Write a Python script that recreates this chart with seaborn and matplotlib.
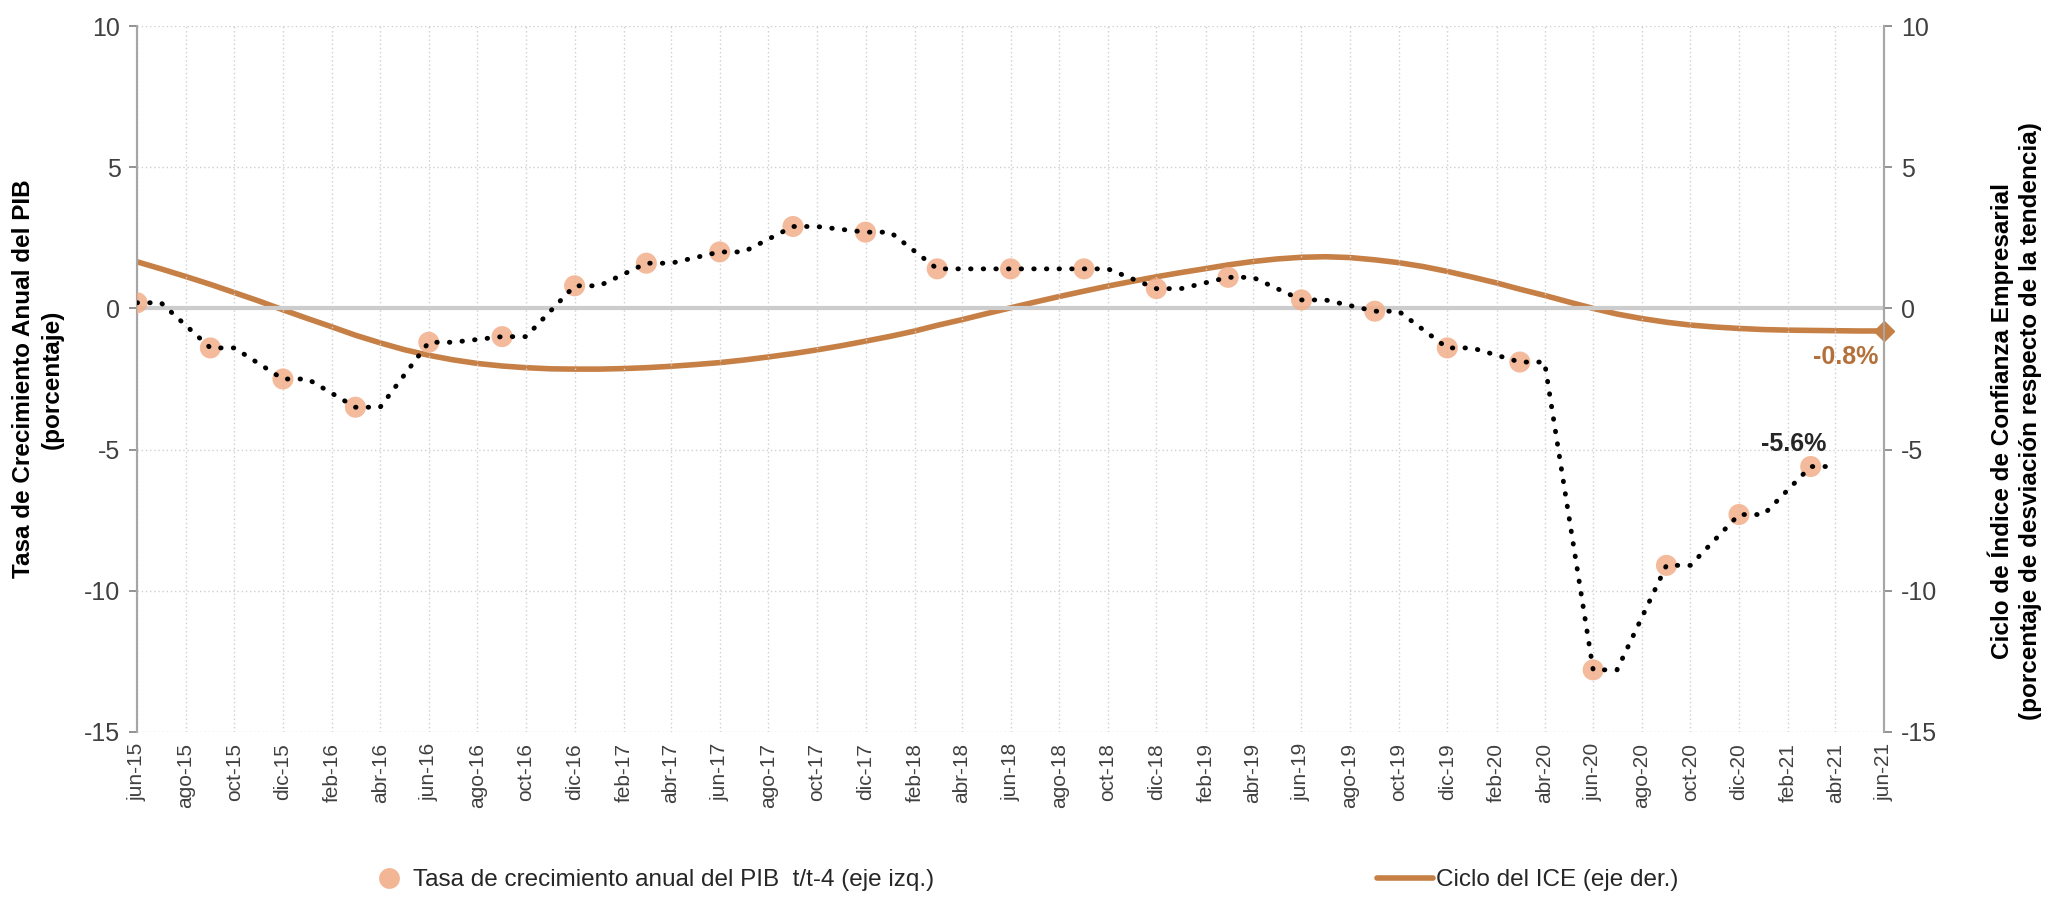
import pandas as pd
import numpy as np
import matplotlib
matplotlib.use("Agg")
import matplotlib.pyplot as plt
import seaborn as sns
from matplotlib.lines import Line2D

# PIB: tasa de crecimiento anual t/t-4 (trimestral, eje izq.)
pib_months = ["2015-06", "2015-09", "2015-12", "2016-03", "2016-06", "2016-09",
              "2016-12", "2017-03", "2017-06", "2017-09", "2017-12", "2018-03",
              "2018-06", "2018-09", "2018-12", "2019-03", "2019-06", "2019-09",
              "2019-12", "2020-03", "2020-06", "2020-09", "2020-12", "2021-03"]
pib_values = [0.2, -1.4, -2.5, -3.5, -1.2, -1.0,
              0.8, 1.6, 2.0, 2.9, 2.7, 1.4,
              1.4, 1.4, 0.7, 1.1, 0.3, -0.1,
              -1.4, -1.9, -12.8, -9.1, -7.3, -5.6]

# Ciclo del ICE (mensual, eje der.), jun-15 .. jun-21
ice_start = "2015-06"
ice_values = [1.65, 1.40, 1.13, 0.85, 0.56, 0.26, -0.05, -0.36, -0.66, -0.95,
              -1.22, -1.46, -1.66, -1.82, -1.95, -2.04, -2.10, -2.14, -2.15, -2.15,
              -2.13, -2.10, -2.05, -1.99, -1.92, -1.83, -1.72, -1.60, -1.47, -1.32,
              -1.16, -0.99, -0.80, -0.60, -0.40, -0.19, 0.02, 0.22, 0.42, 0.61,
              0.79, 0.96, 1.12, 1.27, 1.41, 1.54, 1.66, 1.75, 1.81, 1.83,
              1.80, 1.72, 1.62, 1.48, 1.31, 1.11, 0.90, 0.68, 0.46, 0.23,
              0.00, -0.20, -0.36, -0.49, -0.59, -0.66, -0.71, -0.75, -0.77, -0.78,
              -0.79, -0.80, -0.80]

meses = {1: "ene", 2: "feb", 3: "mar", 4: "abr", 5: "may", 6: "jun",
         7: "jul", 8: "ago", 9: "sep", 10: "oct", 11: "nov", 12: "dic"}

ORANGE = "#C67F45"
SALMON = "#F2AE8A"
GREY_TXT = "#404040"

pib = pd.DataFrame({"fecha": pd.to_datetime(pib_months), "valor": pib_values})
ice = pd.DataFrame({
    "fecha": pd.date_range(ice_start, periods=len(ice_values), freq="MS"),
    "valor": ice_values,
})

# linea punteada: el valor trimestral se mantiene un mes y luego enlaza con el siguiente
pib_line = pd.concat([pib, pib.assign(fecha=pib["fecha"] + pd.DateOffset(months=1))])
pib_line = pib_line.sort_values("fecha")

sns.set_theme(style="white")
plt.rcParams["font.family"] = ["Liberation Sans", "DejaVu Sans"]
plt.rcParams["axes.unicode_minus"] = False

fig, ax = plt.subplots(figsize=(20.49, 9), dpi=100)
fig.subplots_adjust(left=0.0669, right=0.9195, top=0.9711, bottom=0.1867)
ax2 = ax.twinx()

ticks = pd.date_range("2015-06", "2021-06", freq="2MS")
ax.set_xticks(ticks)
ax.set_xticklabels([f"{meses[d.month]}-{d.strftime('%y')}" for d in ticks],
                   rotation=90, fontsize=15, color=GREY_TXT)
ax.set_xlim(ticks[0], ticks[-1])

for a in (ax, ax2):
    a.set_ylim(-15, 10)
    a.set_yticks([-15, -10, -5, 0, 5, 10])
    a.tick_params(axis="y", labelsize=18, colors="#808080", labelcolor=GREY_TXT,
                  length=6, width=1.2, direction="out", pad=6)
    for s in ("top", "bottom"):
        a.spines[s].set_visible(False)
    a.spines["left"].set_color("#A6A6A6")
    a.spines["right"].set_color("#A6A6A6")
    a.spines["left"].set_linewidth(1.5)
    a.spines["right"].set_linewidth(1.5)
ax.tick_params(axis="x", length=0, pad=8)

ax.grid(True, axis="both", linestyle=(0, (1, 2)), color="#CFCFCF", linewidth=1)
ax.axhline(0, color="#CCCCCC", linewidth=3, zorder=1)

sns.scatterplot(data=pib, x="fecha", y="valor", ax=ax, s=230, color=SALMON,
                edgecolor="none", alpha=0.85, zorder=3, legend=False)
sns.lineplot(data=pib_line, x="fecha", y="valor", ax=ax, color="black",
             linewidth=3.5, linestyle=(0, (0.1, 2.5)), dash_capstyle="round",
             zorder=4, legend=False)

sns.lineplot(data=ice, x="fecha", y="valor", ax=ax2, color=ORANGE, linewidth=4,
             zorder=3, legend=False)
last = ice.iloc[-1]
ax2.plot([last["fecha"]], [last["valor"]], marker="D", markersize=10,
         color=ORANGE, clip_on=False, zorder=5)

ax2.annotate("-0.8%", (last["fecha"], last["valor"]), xytext=(-38, -26),
             textcoords="offset pixels", ha="center", va="center",
             fontsize=18, fontweight="bold", color="#B3703A")
ult = pib.iloc[-1]
ax.annotate("-5.6%", (ult["fecha"], ult["valor"]), xytext=(-17, 23),
            textcoords="offset pixels", ha="center", va="center",
            fontsize=18, fontweight="bold", color="#262626")

ax.set_xlabel("")
ax.set_ylabel("Tasa de Crecimiento Anual del PIB\n(porcentaje)", fontsize=17.5,
              fontweight="bold", color="black", linespacing=1.3)
ax.yaxis.set_label_coords(-0.042, 0.5)
ax2.set_ylabel("Ciclo de Índice de Confianza Empresarial\n"
               "(porcentaje de desviación respecto de la tendencia)",
               fontsize=17.5, fontweight="bold", color="black", linespacing=1.3)
ax2.yaxis.set_label_coords(1.059, 0.44)

ax.set_zorder(ax2.get_zorder() + 1)
ax.patch.set_visible(False)

h1 = Line2D([], [], marker="o", linestyle="none", markersize=15,
            markerfacecolor=SALMON, markeredgecolor="none", alpha=0.9)
h2 = Line2D([], [], color=ORANGE, linewidth=4)
fig.legend([h1], ["Tasa de crecimiento anual del PIB  t/t-4 (eje izq.)"],
           loc="center left", bbox_to_anchor=(0.184, 0.022), frameon=False,
           fontsize=17.5, handlelength=1.0, handletextpad=0.5, borderpad=0,
           borderaxespad=0, labelcolor="#262626")
fig.legend([h2], ["Ciclo del ICE (eje der.)"],
           loc="center left", bbox_to_anchor=(0.672, 0.022), frameon=False,
           fontsize=17.5, handlelength=2.3, handletextpad=0.15, borderpad=0,
           borderaxespad=0, labelcolor="#262626")

fig.savefig("out.png", dpi=100)
